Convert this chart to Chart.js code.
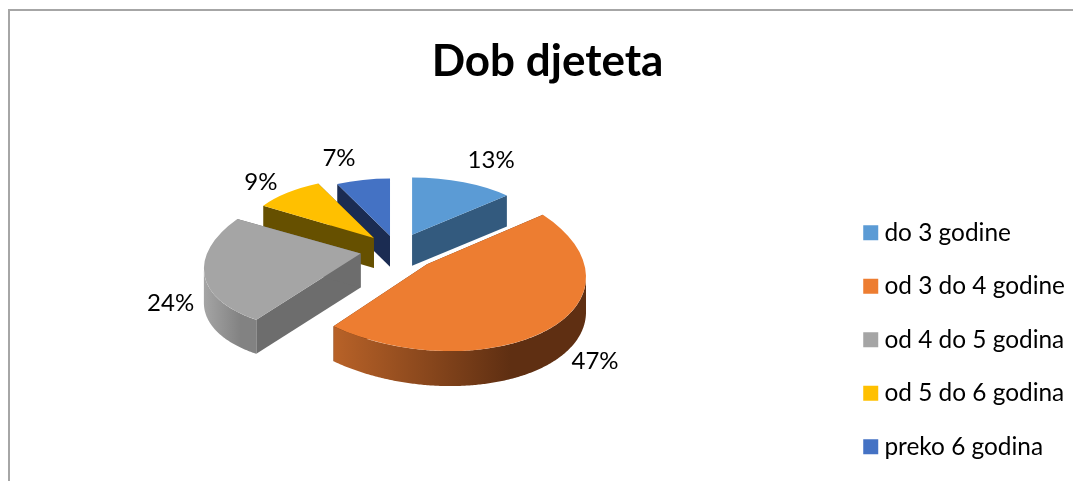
<!DOCTYPE html>
<html>
<head>
<meta charset="utf-8">
<title>Dob djeteta</title>
<script src="https://cdn.jsdelivr.net/npm/chart.js@4"></script>
<style>
    html, body { margin: 0; padding: 0; background: #fff; overflow: hidden; }
    #frame { position: absolute; left: 8px; top: 9px; width: 1100px; height: 500px; border: 2px solid #a6a6a6; }
    #pie { position: absolute; left: 0; top: 0; }
</style>
</head>
<body>
<div id="frame"></div>
<canvas id="pie" width="1073" height="481"></canvas>
<script>
const titleText = "Dob djeteta";
const categories = ["do 3 godine", "od 3 do 4 godine", "od 4 do 5 godina", "od 5 do 6 godina", "preko 6 godina"];
const shares = [13, 47, 24, 9, 7];

const topColours = ["#5b9bd5", "#ed7d31", "#a5a5a5", "#ffc000", "#4472c4"];
const faceColours = ["#335a7e", "#5f2f12", "#6d6d6d", "#665000", "#1b2c52"];
const wallColours = [["#335a7e", "#335a7e"], ["#b86228", "#5f2f12"], ["#a5a5a5", "#828282"], ["#665000", "#665000"], ["#1b2c52", "#1b2c52"]];

// how the 3d look is faked, slice by slice
const pieCentre = [397, 250];
const sliceRadius = [130, 159, 156, 131, 124];
const sliceTilt = [0.44, 0.54, 0.49, 0.46, 0.46];
const sliceShearX = [0, 0, -0.1, 0, 0];
const sliceShearY = [0, 0.08, -0.05, 0, 0];
const sliceDepth = [31, 35, 34, 30, 31];
const sliceExplode = [38, 40, 37, 35, 32];
const drawOrder = [4, 3, 0, 2, 1];
const labelShift = [[79, -74], [168, 97], [-190, 50], [-113, -56], [-51, -77]];

function apexOf(arc, i) {
    const mid = (arc.startAngle + arc.endAngle) / 2;
    return [
        pieCentre[0] + Math.cos(mid) * sliceExplode[i],
        pieCentre[1] + Math.sin(mid) * sliceExplode[i] * sliceTilt[i]
    ];
}

// point on the rim of slice i as it lands on screen
function rimPoint(arc, i, a) {
    const [px, py] = apexOf(arc, i);
    const x = Math.cos(a) * sliceRadius[i], y = Math.sin(a) * sliceRadius[i];
    return [px + x + sliceShearX[i] * y, py + sliceShearY[i] * x + sliceTilt[i] * y];
}

function drawSides(ctx, arc, i) {
    const [px, py] = apexOf(arc, i);
    const d = sliceDepth[i];

    // flat cut faces
    ctx.fillStyle = faceColours[i];
    [arc.startAngle, arc.endAngle].forEach(a => {
        const [ex, ey] = rimPoint(arc, i, a);
        ctx.beginPath();
        ctx.moveTo(px, py);
        ctx.lineTo(ex, ey);
        ctx.lineTo(ex, ey + d);
        ctx.lineTo(px, py + d);
        ctx.closePath();
        ctx.fill();
    });

    // curved wall, only the part turned to the viewer
    const turn = Math.atan(sliceShearX[i]);
    const from = Math.max(arc.startAngle, turn), to = Math.min(arc.endAngle, turn + Math.PI);
    if (to <= from) return;
    const rim = [];
    for (let a = from; a < to; a += 0.01) rim.push(rimPoint(arc, i, a));
    rim.push(rimPoint(arc, i, to));
    const x0 = rim[rim.length - 1][0], x1 = rim[0][0];
    const grad = ctx.createLinearGradient(x0, 0, x0 + (x1 - x0) * 0.7, 0);
    grad.addColorStop(0, wallColours[i][0]);
    grad.addColorStop(1, wallColours[i][1]);
    ctx.fillStyle = grad;
    ctx.beginPath();
    rim.forEach(p => ctx.lineTo(p[0], p[1]));
    rim.reverse().forEach(p => ctx.lineTo(p[0], p[1] + d));
    ctx.closePath();
    ctx.fill();
}

const tiltedPie = {
    id: "tiltedPie",
    afterDatasetsUpdate(chart) {
        chart.getDatasetMeta(0).data.forEach((arc, i) => { arc.outerRadius = sliceRadius[i]; });
    },
    beforeDatasetDraw(chart, args) {
        const ctx = chart.ctx;
        drawOrder.forEach(i => {
            const arc = args.meta.data[i];
            const [px, py] = apexOf(arc, i);
            drawSides(ctx, arc, i);
            ctx.save();
            ctx.transform(1, sliceShearY[i], sliceShearX[i], sliceTilt[i], px, py);
            ctx.translate(-arc.x, -arc.y);
            arc.draw(ctx);
            ctx.restore();
        });
        return false;
    },
    afterDatasetsDraw(chart) {
        const ctx = chart.ctx;
        ctx.save();
        ctx.font = "24px Lato";
        ctx.fillStyle = "#000";
        ctx.textAlign = "center";
        ctx.textBaseline = "middle";
        chart.getDatasetMeta(0).data.forEach((arc, i) => {
            const [px, py] = apexOf(arc, i);
            ctx.fillText(shares[i] + "%", px + labelShift[i][0], py + labelShift[i][1]);
        });
        ctx.restore();
    }
};

new Chart(document.getElementById("pie").getContext("2d"), {
    type: "pie",
    data: {
        labels: categories,
        datasets: [{
            data: shares,
            backgroundColor: topColours,
            borderWidth: 0
        }]
    },
    options: {
        responsive: false,
        animation: false,
        events: [],
        // negative bottom/right: the legend has to sit further out than chart.js would put it
        layout: { padding: { left: 20, right: -2, bottom: -7 } },
        plugins: {
            tooltip: { enabled: false },
            title: {
                display: true,
                text: titleText,
                color: "#000",
                font: { family: "Lato", size: 44, weight: "bold" },
                padding: { top: 35, bottom: 10 }
            },
            legend: {
                position: "right",
                align: "end",
                labels: {
                    color: "#000",
                    font: { family: "Lato", size: 24.4 },
                    boxWidth: 3,
                    boxHeight: 3,
                    padding: 29.1,
                    // thick outline so the swatch sits close to its text
                    generateLabels: chart => Chart.overrides.pie.plugins.legend.labels.generateLabels(chart)
                        .map(item => ({ ...item, lineWidth: 12, strokeStyle: item.fillStyle }))
                }
            }
        }
    },
    plugins: [tiltedPie]
});
</script>
</body>
</html>
